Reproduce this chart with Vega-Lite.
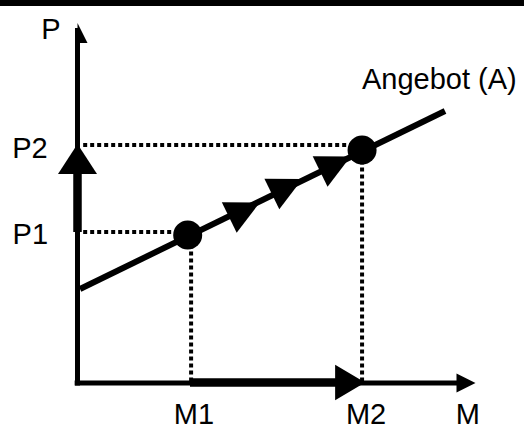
{
  "$schema": "https://vega.github.io/schema/vega-lite/v6.json",
  "width": 524,
  "height": 430,
  "autosize": {"type": "none"},
  "padding": 0,
  "background": "white",
  "config": {"view": {"stroke": null}},
  "datasets": {
    "bar": [{"y": 7.54, "y2": 7.66}],
    "axes": [
      {"axis": "P", "x": 0, "y": -0.05, "x2": 0, "y2": 7.1},
      {"axis": "M", "x": -0.05, "y": 0, "x2": 6.7, "y2": 0}
    ],
    "moves": [
      {"move": "price", "x": 0, "y": 3.02, "x2": 0, "y2": 4.46},
      {"move": "quantity", "x": 1.98, "y": 0.01, "x2": 4.6, "y2": 0.01}
    ],
    "guides": [
      {"x": 0.1, "y": 3.02, "x2": 1.93, "y2": 3.02},
      {"x": 0.1, "y": 4.76, "x2": 5.01, "y2": 4.76},
      {"x": 2.0, "y": 0.03, "x2": 2.0, "y2": 2.96},
      {"x": 5.01, "y": 0.03, "x2": 5.01, "y2": 4.66}
    ],
    "supply": [{"x": 0.044, "y": 1.88, "x2": 6.47, "y2": 5.44}],
    "equilibria": [{"M": 1.94, "P": 2.96}, {"M": 5.01, "P": 4.66}],
    "along": [{"M": 2.94, "P": 3.46}, {"M": 3.69, "P": 3.93}, {"M": 4.54, "P": 4.38}],
    "pTip": [{"M": 0, "P": 7.0}],
    "mTip": [{"M": 6.84, "P": 0}],
    "mMove": [{"M": 4.8, "P": 0.01}],
    "pMove": [{"M": 0, "P": 4.48}],
    "labels": [
      {"label": "P", "M": -0.467, "P": 6.88},
      {"label": "P2", "M": -0.836, "P": 4.5},
      {"label": "P1", "M": -0.83, "P": 2.78},
      {"label": "M1", "M": 2.05, "P": -0.82},
      {"label": "M2", "M": 5.08, "P": -0.82},
      {"label": "M", "M": 6.87, "P": -0.82},
      {"label": "Angebot (A)", "M": 6.37, "P": 5.88}
    ]
  },
  "layer": [
    {
      "data": {"name": "bar"},
      "mark": {"type": "rect", "color": "black"},
      "encoding": {
        "y": {"field": "y", "type": "quantitative", "scale": {"domain": [-0.94, 7.66], "nice": false, "zero": false}, "axis": null},
        "y2": {"field": "y2"}
      }
    },
    {
      "data": {"name": "axes"},
      "mark": {"type": "rule", "color": "black", "strokeWidth": 5},
      "encoding": {
        "x": {"field": "x", "type": "quantitative", "scale": {"domain": [-1.3644, 7.8609], "nice": false, "zero": false}, "axis": null},
        "x2": {"field": "x2"},
        "y": {"field": "y", "type": "quantitative", "scale": {"domain": [-0.94, 7.66], "nice": false, "zero": false}, "axis": null},
        "y2": {"field": "y2"}
      }
    },
    {
      "data": {"name": "moves"},
      "mark": {"type": "rule", "color": "black", "strokeWidth": 8.5},
      "encoding": {
        "x": {"field": "x", "type": "quantitative", "axis": null},
        "x2": {"field": "x2"},
        "y": {"field": "y", "type": "quantitative", "axis": null},
        "y2": {"field": "y2"}
      }
    },
    {
      "data": {"name": "guides"},
      "mark": {"type": "rule", "color": "black", "strokeWidth": 4, "strokeDash": [4, 3]},
      "encoding": {
        "x": {"field": "x", "type": "quantitative", "axis": null},
        "x2": {"field": "x2"},
        "y": {"field": "y", "type": "quantitative", "axis": null},
        "y2": {"field": "y2"}
      }
    },
    {
      "data": {"name": "supply"},
      "mark": {"type": "rule", "color": "black", "strokeWidth": 6},
      "encoding": {
        "x": {"field": "x", "type": "quantitative", "axis": null},
        "x2": {"field": "x2"},
        "y": {"field": "y", "type": "quantitative", "axis": null},
        "y2": {"field": "y2"}
      }
    },
    {
      "data": {"name": "equilibria"},
      "mark": {"type": "point", "shape": "circle", "filled": true, "color": "black", "opacity": 1, "size": 841},
      "encoding": {
        "x": {"field": "M", "type": "quantitative", "axis": null},
        "y": {"field": "P", "type": "quantitative", "axis": null}
      }
    },
    {
      "data": {"name": "along"},
      "mark": {"type": "point", "shape": "M1,0L-1,-1L-1,1Z", "filled": true, "color": "black", "opacity": 1, "size": 1150, "angle": -26},
      "encoding": {
        "x": {"field": "M", "type": "quantitative", "axis": null},
        "y": {"field": "P", "type": "quantitative", "axis": null}
      }
    },
    {
      "data": {"name": "pTip"},
      "mark": {"type": "point", "shape": "M0,-1L1,1L0,1Z", "filled": true, "color": "black", "opacity": 1, "size": 400},
      "encoding": {
        "x": {"field": "M", "type": "quantitative", "axis": null},
        "y": {"field": "P", "type": "quantitative", "axis": null}
      }
    },
    {
      "data": {"name": "mTip"},
      "mark": {"type": "point", "shape": "M1,0L-1,-1L-1,1Z", "filled": true, "color": "black", "opacity": 1, "size": 360},
      "encoding": {
        "x": {"field": "M", "type": "quantitative", "axis": null},
        "y": {"field": "P", "type": "quantitative", "axis": null}
      }
    },
    {
      "data": {"name": "mMove"},
      "mark": {"type": "point", "shape": "M1,0L-1,-1.18L-1,1.18Z", "filled": true, "color": "black", "opacity": 1, "size": 900},
      "encoding": {
        "x": {"field": "M", "type": "quantitative", "axis": null},
        "y": {"field": "P", "type": "quantitative", "axis": null}
      }
    },
    {
      "data": {"name": "pMove"},
      "mark": {"type": "point", "shape": "M0,-1L1.3,1L-1.3,1Z", "filled": true, "color": "black", "opacity": 1, "size": 900},
      "encoding": {
        "x": {"field": "M", "type": "quantitative", "axis": null},
        "y": {"field": "P", "type": "quantitative", "axis": null}
      }
    },
    {
      "data": {"name": "labels"},
      "mark": {"type": "text", "font": "Liberation Sans", "fontSize": 29, "color": "black", "align": "center", "baseline": "alphabetic"},
      "encoding": {
        "x": {"field": "M", "type": "quantitative", "axis": null},
        "y": {"field": "P", "type": "quantitative", "axis": null},
        "text": {"field": "label"}
      }
    }
  ]
}
